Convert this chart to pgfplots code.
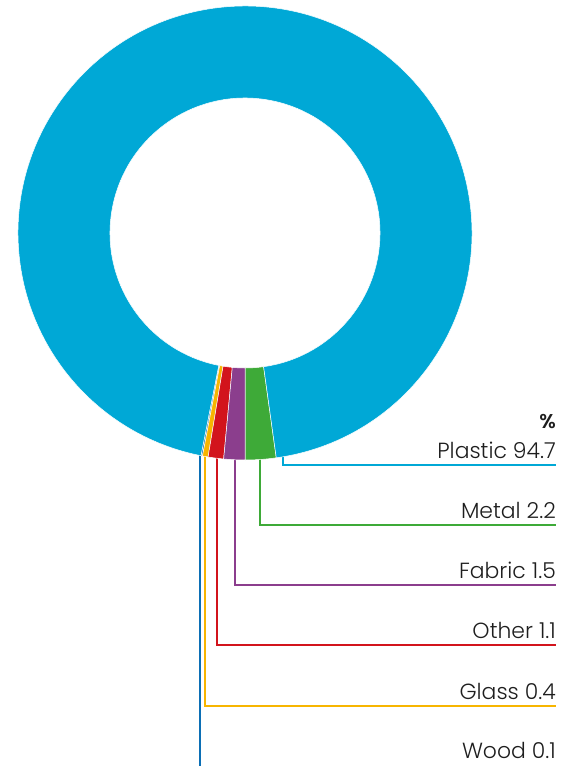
\documentclass[border=0pt]{standalone}
\usepackage{fontspec}
\setmainfont{Poppins}[UprightFont=* Light, BoldFont=* SemiBold]
\usepackage{pgfplots}
\usepackage{pgfplotstable}
\pgfplotsset{compat=1.18}
\definecolor{plasticc}{HTML}{00A8D6}
\definecolor{metalc}{HTML}{3EAA38}
\definecolor{fabricc}{HTML}{8B3E8D}
\definecolor{otherc}{HTML}{D2141C}
\definecolor{glassc}{HTML}{F7B500}
\definecolor{woodc}{HTML}{0B6FB5}
\definecolor{txt}{HTML}{1E1E1E}
% slices in drawing order, counterclockwise starting at the bottom (-90 deg)
\pgfplotstableread{
label value color
Metal 2.2 metalc
Plastic 94.7 plasticc
Wood 0.1 woodc
Glass 0.4 glassc
Other 1.1 otherc
Fabric 1.5 fabricc
}\slices
% leader lines: x of vertical, y (px from top) of horizontal
\pgfplotstableread{
label value lx ly color
Plastic 94.7 283 465 plasticc
Metal 2.2 260 525 metalc
Fabric 1.5 235 585 fabricc
Other 1.1 217 645 otherc
Glass 0.4 205 706 glassc
Wood 0.1 200 766 woodc
}\labels
\begin{document}
\begin{tikzpicture}
\begin{axis}[x=1bp,y=1bp,xmin=0,xmax=567,ymin=0,ymax=766,hide axis,clip=false,
  scale only axis]
\pgfplotsextra{
% leader lines
\pgfplotstablegetrowsof{\labels}
\pgfmathtruncatemacro\NL{\pgfplotsretval-1}
\foreach \i in {0,...,\NL}{
  \pgfplotstablegetelem{\i}{lx}\of{\labels}\let\lx\pgfplotsretval
  \pgfplotstablegetelem{\i}{ly}\of{\labels}\let\ly\pgfplotsretval
  \pgfplotstablegetelem{\i}{color}\of{\labels}\let\lc\pgfplotsretval
  \pgfplotstablegetelem{\i}{label}\of{\labels}\let\ll\pgfplotsretval
  \pgfplotstablegetelem{\i}{value}\of{\labels}\let\lv\pgfplotsretval
  \pgfmathsetmacro\yy{766-\ly}
  \pgfmathsetmacro\yb{766-\ly+7}
  \ifnum\i=5
    \draw[color=\lc,line width=2.5bp] (axis cs:\lx,316) -- (axis cs:\lx,0);
    \node[anchor=base east,inner sep=0pt,text=txt,font=\fontsize{22}{24}\selectfont] at (axis cs:556,8) {\ll\ \lv};
  \else
    \draw[color=\lc,line width=2.5bp] (axis cs:\lx,316) |- (axis cs:556,\yy);
    \node[anchor=base east,inner sep=0pt,text=txt,font=\fontsize{22}{24}\selectfont] at (axis cs:556,\yb) {\ll\ \lv};
  \fi
}
% donut
\gdef\cum{-90}
\pgfplotstablegetrowsof{\slices}
\pgfmathtruncatemacro\NS{\pgfplotsretval-1}
\foreach \i in {0,...,\NS}{
  \pgfplotstablegetelem{\i}{value}\of{\slices}\let\sv\pgfplotsretval
  \pgfplotstablegetelem{\i}{color}\of{\slices}\let\sc\pgfplotsretval
  \pgfmathsetmacro\a{\cum}
  \pgfmathsetmacro\b{\cum+3.6*\sv}
  \fill[color=\sc,draw=white,line width=0.5bp] (axis cs:245,533) ++(\a:227bp)
     arc[start angle=\a,end angle=\b,radius=227bp] -- ++(\b:-92bp)
     arc[start angle=\b,end angle=\a,radius=135bp] -- cycle;
  \xdef\cum{\b}
}
\node[anchor=base east,inner sep=0pt,text=txt,font=\bfseries\fontsize{20}{22}\selectfont] at (axis cs:556,338) {\%};
}
\end{axis}
\pgfresetboundingbox
\path (0,0) rectangle (567bp,766bp);
\end{tikzpicture}
\end{document}
